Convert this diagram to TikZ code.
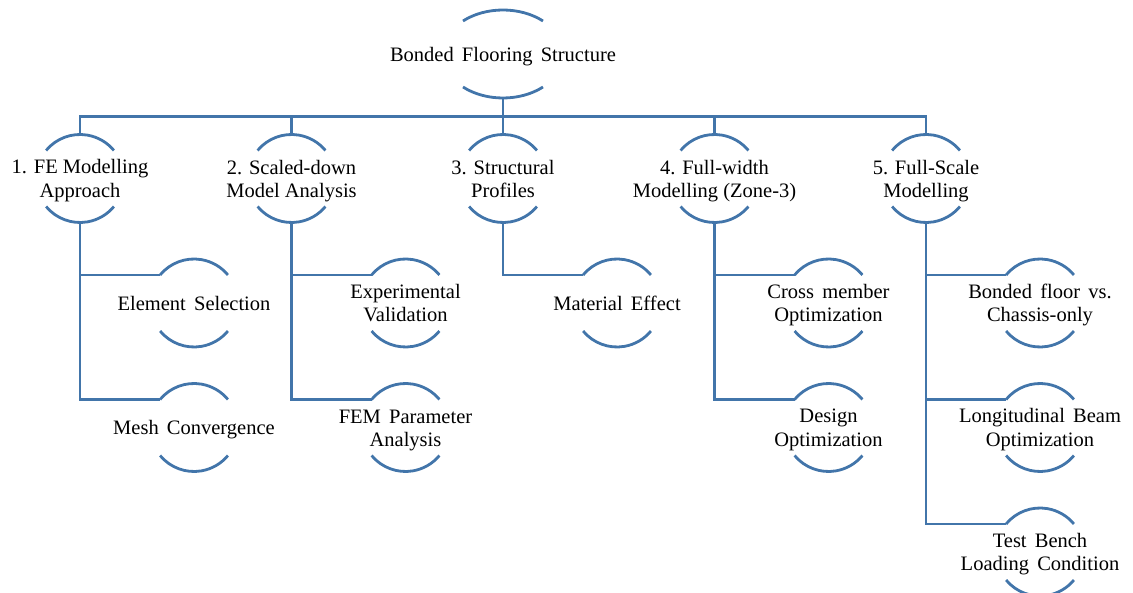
\documentclass[tikz,border=0pt]{standalone}
\usepackage{fontspec}
\setmainfont{Liberation Serif}
\usetikzlibrary{calc}
\definecolor{lineblue}{RGB}{66,117,170}
\newcommand\lblfont{\fontsize{20.5}{23}\selectfont\spaceskip=0.4em plus 0.1em minus 0.05em\relax}
\newcommand\topfont{\fontsize{20.5}{23}\selectfont}
\newcommand\st{\rule[-4.4pt]{0pt}{23pt}}
\begin{document}
\begin{tikzpicture}[x=1pt,y=1pt,
  lbl/.style={align=center, inner sep=0pt, font=\lblfont, text=black},
  lvl/.style={align=center, inner sep=0pt, font=\topfont, text=black},
  conn/.style={draw=lineblue, line width=2.8pt},
  arcline/.style={draw=lineblue, line width=2.8pt}]
\useasboundingbox (0,0) rectangle (1133,-593);
% root
\node[lbl] (root) at (503,-54) {Bonded Flooring Structure\st};
% level 1
\node[lvl] (a1) at (80,-178.5) {1. FE Modelling\st\\Approach\st};
\node[lvl] (a2) at (291.5,-178.5) {2. Scaled-down\st\\Model Analysis\st};
\node[lvl] (a3) at (503,-178.5) {3. Structural\st\\Profiles\st};
\node[lvl] (a4) at (714.5,-178.5) {4. Full-width\st\\Modelling (Zone-3)\st};
\node[lvl] (a5) at (926,-178.5) {5. Full-Scale\st\\Modelling\st};
% children
\node[lbl] (c11) at (194,-303) {Element Selection\st};
\node[lbl] (c12) at (194,-427.5) {Mesh Convergence\st};
\node[lbl] (c21) at (405.5,-303) {Experimental\st\\Validation\st};
\node[lbl] (c22) at (405.5,-427.5) {FEM Parameter\st\\Analysis\st};
\node[lbl] (c31) at (617,-303) {Material Effect\st};
\node[lbl] (c41) at (828.5,-303) {Cross member\st\\Optimization\st};
\node[lbl] (c42) at (828.5,-427.5) {Design\st\\Optimization\st};
\node[lbl] (c51) at (1040,-303) {Bonded floor vs.\st\\Chassis-only\st};
\node[lbl] (c52) at (1040,-427.5) {Longitudinal Beam\st\\Optimization\st};
\node[lbl] (c53) at (1040,-552) {Test Bench\st\\Loading Condition\st};
% root arcs (elliptic)
\draw[arcline] ([shift={(131.4:60.5 and 44)}]root.center) arc[start angle=131.4, end angle=48.6, x radius=60.5, y radius=44];
\draw[arcline] ([shift={(228.6:60.5 and 44)}]root.center) arc[start angle=228.6, end angle=311.4, x radius=60.5, y radius=44];
% circular arcs
\foreach \n in {a1,a2,a3,a4,a5,c11,c12,c21,c22,c31,c41,c42,c51,c52,c53}{
  \draw[arcline] ([shift={(140.4:44)}]\n.center) arc[start angle=140.4, end angle=39.6, radius=44];
  \draw[arcline] ([shift={(219.6:44)}]\n.center) arc[start angle=219.6, end angle=320.4, radius=44];
  \coordinate (\n-t) at ([yshift=44pt]\n.center);
  \coordinate (\n-b) at ([yshift=-44pt]\n.center);
  \coordinate (\n-l) at ([shift={(140.4:44)}]\n.center);
}
\coordinate (root-b) at ([yshift=-44pt]root.center);
% root to level 1
\foreach \n in {a1,a2,a3,a4,a5}{
  \draw[conn] (root-b) -- ++(0,-18.7) -| (\n-t);
}
% level 1 to children
\foreach \p/\c in {a1/c11,a1/c12,a2/c21,a2/c22,a3/c31,a4/c41,a4/c42,a5/c51,a5/c52,a5/c53}{
  \draw[conn] (\p-b) |- (\c-l);
}
\end{tikzpicture}
\end{document}
